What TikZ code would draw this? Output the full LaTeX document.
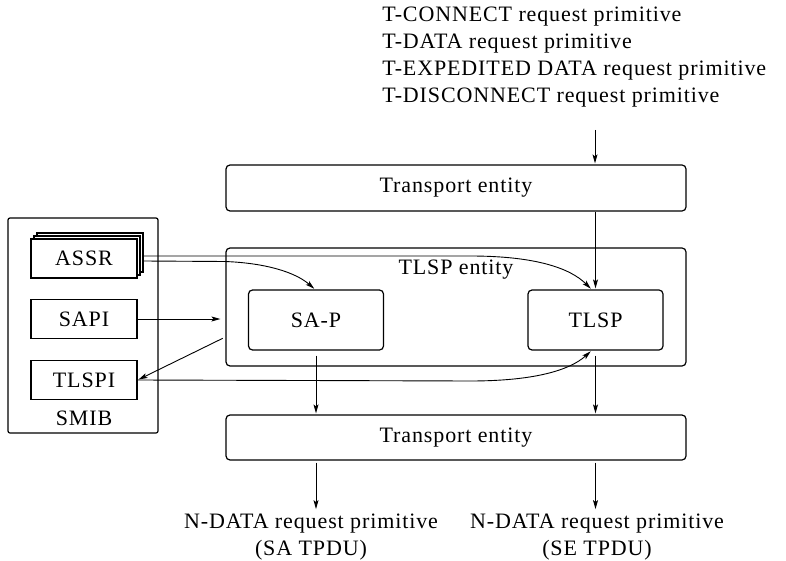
\documentclass[tikz,border=0pt]{standalone}
\usepackage{fontspec}
\setmainfont{Liberation Serif}[LetterSpace=4]
\usetikzlibrary{arrows.meta}

\begin{document}
\begin{tikzpicture}[x=1pt,y=-1pt,->,>={Stealth[length=9pt,width=5pt,inset=2pt]},shorten >=1pt,line width=0.9pt,
	font=\fontsize{22}{27}\selectfont,
	entity node/.style={draw,line width=1.2pt,rounded corners=4pt,minimum width=460pt,inner sep=0pt},
	part node/.style={draw,line width=1.2pt,rounded corners=4pt,minimum width=135pt,minimum height=60pt},
	smib node/.style={draw,line width=1.2pt,fill=white,minimum width=106pt,minimum height=39pt,inner sep=0pt}]
	\useasboundingbox (0,0) rectangle (786,561);
	\node[anchor=north west,align=left,inner sep=0pt] (prims) at (382,6) {T-CONNECT request primitive\\T-DATA request primitive\\T-EXPEDITED DATA request primitive\\T-DISCONNECT request primitive};
	\node[entity node,minimum height=46pt] (te1) at (456,188) {Transport entity};
	\node[entity node,minimum height=118pt] (tlspent) at (456,307) {};
	\node (entlabel) at (456,270) {TLSP entity};
	\node[part node] (sap) at (316,320) {SA-P};
	\node[part node] (tlsp) at (595.5,320) {TLSP};
	\node[entity node,minimum height=45pt] (te2) at (456,437.5) {Transport entity};
	\node[align=center] (nd1) at (311,537) {N-DATA request primitive\\(SA TPDU)};
	\node[align=center] (nd2) at (597,537) {N-DATA request primitive\\(SE TPDU)};
	% SMIB and its parts
	\node[draw,line width=1.2pt,rounded corners=2pt,minimum width=150pt,minimum height=215pt] (smib) at (83,325.5) {};
	\node (smiblabel) at (84,418) {SMIB};
	\node[smib node] (assr2) at (90,252.5) {};
	\node[smib node] (assr1) at (87,255.5) {};
	\node[smib node] (assr) at (84,258.5) {ASSR};
	\node[smib node] (sapi) at (84,319) {SAPI};
	\node[smib node] (tlspi) at (84,380) {TLSPI};

	\coordinate (in) at (595,130);
	\draw (in) -- (in |- te1.north);
	\draw (te1.south -| tlsp) -- (tlsp.north);
	\draw[shorten <=5pt] (sap.south) -- (sap |- te2.north);
	\draw[shorten <=5pt] (tlsp.south) -- (tlsp |- te2.north);
	\draw[shorten <=2pt] (te2.south -| sap) -- (nd1.north -| sap);
	\draw[shorten <=2pt] (te2.south -| tlsp) -- (nd2.north -| tlsp);
	\draw[shorten >=5pt] (sapi.east) -- (sapi.east -| tlspent.west);
	\draw[shorten <=3pt] ([yshift=-30pt]tlspent.west) -- (tlspi.east);
	\draw ([xshift=6pt,yshift=2.5pt]assr.east) -- (470,256) .. controls (535,256) and (570,268) .. ([xshift=-4pt]tlsp.north);
	\draw ([xshift=6pt,yshift=-2.5pt]assr.east) -- (225,261.5) .. controls (265,263) and (295,272) .. ([xshift=-1pt]sap.north);
	\draw (tlspi.east) -- (470,381) .. controls (535,381) and (570,370) .. ([xshift=-4pt]tlsp.south);
\end{tikzpicture}
\end{document}
